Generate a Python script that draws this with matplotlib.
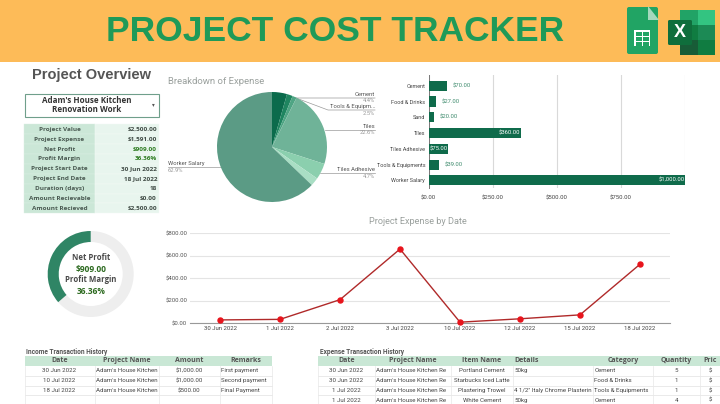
"""
plot.py - project cost tracker dashboard thumbnail, drawn on one 720x404 canvas.
"""
import matplotlib
matplotlib.use("Agg")
import matplotlib.pyplot as plt
from matplotlib.patches import Rectangle, FancyBboxPatch, Polygon, Wedge

W, H = 720, 404
plt.rcParams["font.family"] = ["Roboto", "DejaVu Sans"]

OVERVIEW_LABELS = ["Project Value", "Project Expense", "Net Profit", "Profit Margin",
                   "Project Start Date", "Project End Date", "Duration (days)",
                   "Amount Recievable", "Amount Recieved"]
OVERVIEW_VALUES = ["$2,500.00", "$1,591.00", "$909.00", "36.36%", "30 Jun 2022",
                   "18 Jul 2022", "18", "$0.00", "$2,500.00"]

CATEGORIES = ["Cement", "Food & Drinks", "Sand", "Tiles", "Tiles Adhesive",
              "Tools & Equipments", "Worker Salary"]
CATEGORY_COST = [70, 27, 20, 360, 75, 39, 1000]
PIE_COLORS = ["#0b6b4c", "#1f8560", "#4fa584", "#6fb398", "#8bcfae", "#a9dec4", "#5b9b85"]
INSIDE_LABELS = ["Tiles", "Tiles Adhesive", "Worker Salary"]

DATES = ["30 Jun 2022", "1 Jul 2022", "2 Jul 2022", "3 Jul 2022", "10 Jul 2022",
         "12 Jul 2022", "15 Jul 2022", "18 Jul 2022"]
DATE_COST = [30, 35, 210, 660, 10, 40, 75, 525]

MARGIN_PCT = 36.36

INCOME_HEAD = ["Date", "Project Name", "Amount", "Remarks"]
INCOME_ROWS = [["30 Jun 2022", "Adam's House Kitchen", "$1,000.00", "First payment"],
               ["10 Jul 2022", "Adam's House Kitchen", "$1,000.00", "Second payment"],
               ["18 Jul 2022", "Adam's House Kitchen", "$500.00", "Final Payment"],
               ["", "", "", ""]]
EXPENSE_HEAD = ["Date", "Project Name", "Item Name", "Details", "Category", "Quantity", "Pric"]
EXPENSE_ROWS = [["30 Jun 2022", "Adam's House Kitchen Re", "Portland Cement", "50kg", "Cement", "5", "$"],
                ["30 Jun 2022", "Adam's House Kitchen Re", "Starbucks Iced Latte", "", "Food & Drinks", "1", "$"],
                ["1 Jul 2022", "Adam's House Kitchen Re", "Plastering Trowel", "4 1/2\" Italy Chrome Plasterin",
                 "Tools & Equipments", "1", "$"],
                ["1 Jul 2022", "Adam's House Kitchen Re", "White Cement", "50kg", "Cement", "4", "$"]]


def px_axes(fig, x0, y0, x1, y1):
    # axes placed by reference pixels, y measured from the top
    return fig.add_axes([x0 / W, 1 - y1 / H, (x1 - x0) / W, (y1 - y0) / H])


def money(v):
    return f"${v:,.2f}"


fig = plt.figure(figsize=(W / 100, H / 100), dpi=100, facecolor="white")
bg = fig.add_axes([0, 0, 1, 1])
bg.set_xlim(0, W); bg.set_ylim(H, 0); bg.axis("off")

# ---- header band + icons ----
bg.add_patch(Rectangle((0, 0), W, 62, color="#fdbb58", lw=0))
bg.text(335, 31.5, "PROJECT COST TRACKER", ha="center", va="center", color="#1f9a58",
        fontsize=25.5, fontweight="bold", family="Liberation Sans")

bg.add_patch(FancyBboxPatch((627, 7), 31, 47, boxstyle="round,pad=0,rounding_size=2", color="#21a464", lw=0))
bg.add_patch(Polygon([[648, 6], [659, 20], [648, 20]], color="#a5d8bd", lw=0))
bg.add_patch(Rectangle((634, 30), 16, 16, color="white", lw=0))
for i in range(3):
    for j in range(2):
        bg.add_patch(Rectangle((635.5 + j * 7, 31.5 + i * 5), 6, 4, color="#21a464", lw=0))

for y0, x0, c in [(10, 680, "#21a366"), (10, 698, "#33c481"), (25, 680, "#107c41"),
                  (25, 698, "#1c8a55"), (40, 680, "#185c37"), (40, 698, "#107c41")]:
    bg.add_patch(Rectangle((x0, y0), 18 if x0 == 680 else 17, 15, color=c, lw=0))
bg.add_patch(FancyBboxPatch((668, 20), 24, 25, boxstyle="round,pad=0,rounding_size=1.5", color="#0f6e3c", lw=0))
bg.text(680, 32.5, "X", ha="center", va="center", color="white", fontsize=13, fontweight="bold",
        family="Liberation Sans")

# ---- overview panel ----
bg.text(92, 75, "Project Overview", ha="center", va="center", color="#555555",
        fontsize=10.5, fontweight="bold", family="Liberation Sans")
bg.add_patch(Rectangle((24.5, 93.5), 134, 23, fc="white", ec="#6f9f8b", lw=0.8))
bg.text(87, 100.5, "Adam's House Kitchen", ha="center", va="center", color="#333333",
        fontsize=5.8, fontweight="bold", family="Open Sans")
bg.text(87, 109.5, "Renovation Work", ha="center", va="center", color="#333333",
        fontsize=5.8, fontweight="bold", family="Open Sans")
bg.text(153.5, 105, "▾", ha="center", va="center", color="#555555", fontsize=4, family="DejaVu Sans")

row_h = 89 / len(OVERVIEW_LABELS)
for i, (lab, val) in enumerate(zip(OVERVIEW_LABELS, OVERVIEW_VALUES)):
    y = 124.3 + i * row_h
    bg.add_patch(Rectangle((24, y), 71, row_h, fc="#cbe7d7", ec="#dcefe4", lw=0.3))
    bg.add_patch(Rectangle((95, y), 64, row_h, fc="#e8f5ee", ec="#f4faf6", lw=0.3))
    bg.text(59.5, y + row_h / 2, lab, ha="center", va="center", color="#4a5a52", fontsize=4.6,
            fontweight="bold", family="Open Sans")
    col = "#2c7a1f" if lab in ("Net Profit", "Profit Margin") else "#3f4a44"
    bg.text(157, y + row_h / 2, val, ha="right", va="center", color=col, fontsize=4.6,
            fontweight="bold", family="Open Sans")

# ---- pie ----
bg.text(168.5, 81.5, "Breakdown of Expense", ha="left", va="center", color="#9aa09d", fontsize=6.8)
ax_pie = px_axes(fig, 217, 92, 327, 202)
ax_pie.pie(CATEGORY_COST, colors=PIE_COLORS, startangle=90, counterclock=False, radius=1,
           wedgeprops={"lw": 0})
ax_pie.set_xlim(-1, 1); ax_pie.set_ylim(-1, 1)

total = sum(CATEGORY_COST)
leaders = {"Cement": ([279, 296, 375], [95, 98, 98], 94),
           "Tools & Equipments": ([296, 328, 375], [98, 110, 110], 106.5),
           "Tiles": ([325, 375], [130, 130], 126),
           "Tiles Adhesive": ([320, 375], [173, 173], 169.5)}
for name, (xs, ys, ty) in leaders.items():
    bg.plot(xs, ys, color="#9a9a9a", lw=0.5, zorder=5)
    label = "Tools & Equipm..." if name.startswith("Tools") else name
    pct = CATEGORY_COST[CATEGORIES.index(name)] / total * 100
    bg.text(375, ty, label, ha="right", va="center", color="#555555", fontsize=4.2)
    bg.text(375, ty + 6.8, f"{pct:.1f}%", ha="right", va="center", color="#9a9a9a", fontsize=4.2)
bg.plot([168, 222], [167, 167], color="#9a9a9a", lw=0.5, zorder=5)
bg.text(168, 163.5, "Worker Salary", ha="left", va="center", color="#555555", fontsize=4.2)
bg.text(168, 170.5, f"{CATEGORY_COST[-1] / total * 100:.1f}%", ha="left", va="center",
        color="#9a9a9a", fontsize=4.2)

# ---- category bars ----
ax_bar = px_axes(fig, 428.7, 75, 685, 188.3)
ypos = list(range(len(CATEGORIES)))
ax_bar.barh(ypos, CATEGORY_COST, height=0.64, color="#0f6b4b", zorder=3)
ax_bar.set_ylim(len(CATEGORIES) - 0.5, -0.68)
ax_bar.set_xlim(0, 1000)
ax_bar.set_yticks(ypos, CATEGORIES, fontsize=4.0, color="#444444")
ax_bar.set_xticks([0, 250, 500, 750], [money(v) for v in [0, 250, 500, 750]], fontsize=4.3, color="#444444")
ax_bar.tick_params(axis="y", length=0, pad=2.5)
ax_bar.tick_params(axis="x", length=0, pad=5)
ax_bar.grid(axis="x", color="#d9d9d9", lw=0.8, zorder=0)
ax_bar.axvline(1000, color="#d9d9d9", lw=0.8, zorder=0)
for s in ["top", "right", "bottom"]:
    ax_bar.spines[s].set_visible(False)
ax_bar.spines["left"].set_color("#777777")
ax_bar.spines["left"].set_linewidth(0.7)
for y, name, v in zip(ypos, CATEGORIES, CATEGORY_COST):
    if name in INSIDE_LABELS:
        ax_bar.text(v - 2, y, money(v), ha="right", va="center", color="white", fontsize=4.2, zorder=4)
    else:
        ax_bar.text(v + 24, y, money(v), ha="left", va="center", color="#3d8a6c", fontsize=4.2, zorder=4)

# ---- expense by date ----
ax_line = px_axes(fig, 190, 233.3, 670, 323.3)
xs = list(range(len(DATES)))
ax_line.plot(xs, DATE_COST, color="#b02a2a", lw=1.0, marker="o", ms=3.6,
             mfc="#e8141c", mec="#e8141c", zorder=3, clip_on=False)
ax_line.set_xlim(-0.5, 7.5); ax_line.set_ylim(0, 800)
ax_line.set_xticks(xs, DATES, fontsize=4.3, color="#444444")
ax_line.set_yticks([0, 200, 400, 600, 800], [money(v) for v in [0, 200, 400, 600, 800]],
                   fontsize=4.3, color="#555555")
ax_line.tick_params(length=0, pad=2)
ax_line.grid(axis="y", color="#e4e4e4", lw=0.8, zorder=0)
for s in ["top", "right", "left"]:
    ax_line.spines[s].set_visible(False)
ax_line.spines["bottom"].set_color("#999999")
ax_line.spines["bottom"].set_linewidth(0.8)
bg.text(418, 221.5, "Project Expense by Date", ha="center", va="center", color="#9aa09d", fontsize=6.6)

# ---- donut ----
cx, cy, r_out, r_in = 90.7, 274, 43, 32
bg.add_patch(Wedge((cx, cy), r_out, 0, 360, width=r_out - r_in, color="#eeeeee", lw=0))
# canvas y is flipped, so the angles run the other way round here
bg.add_patch(Wedge((cx, cy), r_out, 270 - MARGIN_PCT * 3.6, 270, width=r_out - r_in, color="#2f8565", lw=0))
for ty, txt, col, fs in [(258, "Net Profit", "#4a4a4a", 5.6), (269, OVERVIEW_VALUES[2], "#2c6a1f", 6.0),
                         (280, "Profit Margin", "#4a4a4a", 5.6), (291, OVERVIEW_VALUES[3], "#2c6a1f", 6.0)]:
    bg.text(cx, ty, txt, ha="center", va="center", color=col, fontsize=fs, fontweight="bold", family="Open Sans")


# ---- transaction tables ----
def draw_table(title, title_x, edges, head, rows, aligns, head_aligns):
    bg.text(title_x, 351.5, title, ha="left", va="center", color="#555555", fontsize=4.7, fontweight="bold")
    bg.add_patch(Rectangle((edges[0], 355.7), edges[-1] - edges[0], 10.3, color="#c9e7d5", lw=0))
    for k, name in enumerate(head):
        hx = (edges[k] + edges[k + 1]) / 2 if head_aligns[k] == "center" else edges[k] + 1.5
        bg.text(hx, 361, name, ha=head_aligns[k], va="center", color="#555555",
                fontsize=5.0, fontweight="bold", family="Open Sans")
    for r, row in enumerate(rows):
        y = 366 + r * 9.8
        bg.plot([edges[0], edges[-1]], [y + 9.8, y + 9.8], color="#e2e2e2", lw=0.5)
        for k, cell in enumerate(row):
            if aligns[k] == "center":
                tx = (edges[k] + edges[k + 1]) / 2
            else:
                tx = edges[k] + 1.5
            bg.text(tx, y + 4.9, cell, ha=aligns[k], va="center", color="#444444", fontsize=4.4, clip_on=True)
    for e in edges:
        bg.plot([e, e], [366, H], color="#e8e8e8", lw=0.5)


draw_table("Income Transaction History", 26.5, [24.5, 94.5, 158.5, 219.5, 271.5],
           INCOME_HEAD, INCOME_ROWS, ["center", "left", "center", "left"], ["center"] * 4)
draw_table("Expense Transaction History", 320, [318, 375, 451, 513, 593, 653, 700, 720],
           EXPENSE_HEAD, EXPENSE_ROWS, ["center", "left", "center", "left", "left", "center", "center"],
           ["center", "center", "center", "left", "center", "center", "center"])

fig.savefig("out.png", dpi=100)
